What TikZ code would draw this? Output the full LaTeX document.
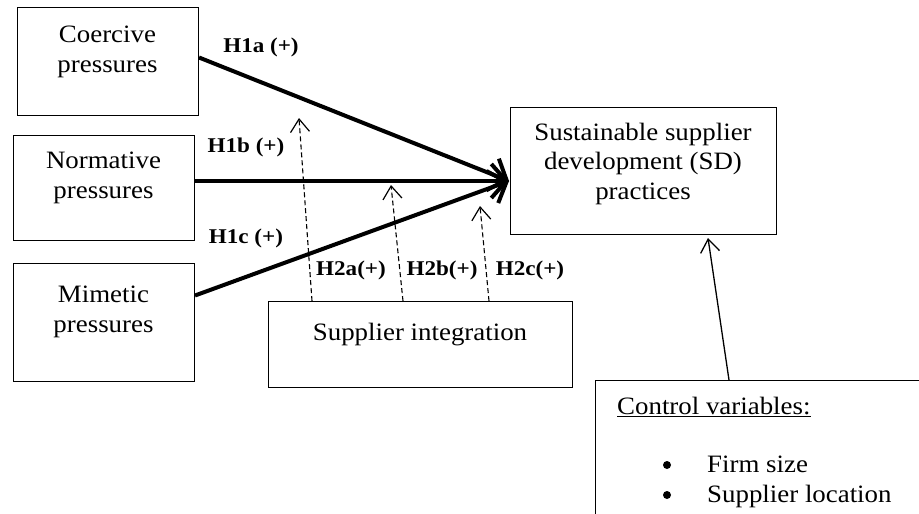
\documentclass[tikz,border=0pt]{standalone}
\usepackage{fontspec}
\setmainfont{Liberation Serif}[FakeStretch=1.075]
\newfontfamily\lblfont{Liberation Serif}[FakeStretch=1.1]
\usetikzlibrary{arrows.meta,calc}

\tikzset{
  box/.style={draw, line width=1pt, inner sep=0pt, anchor=north west},
  boxtext/.style={anchor=base, align=center, inner sep=0pt,
    font=\fontsize{25}{29.5}\selectfont},
  hyp/.style={inner sep=0pt, font=\lblfont\bfseries\fontsize{21}{24}\selectfont},
  mainpath/.style={line width=4pt, -{Straight Barb[length=15pt,width=34pt,line width=4pt]}},
  modpath/.style={line width=1.1pt, dash pattern=on 5pt off 3pt,
    -{Straight Barb[length=13pt,width=19pt,line width=1.2pt]}},
  ctrlpath/.style={line width=1.3pt, -{Straight Barb[length=13pt,width=19pt,line width=1.3pt]}}
}

\begin{document}
\begin{tikzpicture}[x=1pt,y=-1pt]
\useasboundingbox (0,0) rectangle (919,514);
\clip (0,0) rectangle (919,514);

% construct boxes
\node[box, minimum width=181pt, minimum height=108pt] (coer) at (17,7) {};
\node[box, minimum width=181pt, minimum height=105pt] (norm) at (13,135) {};
\node[box, minimum width=181pt, minimum height=118pt] (mim)  at (13,263) {};
\node[box, minimum width=304pt, minimum height=86pt]  (si)   at (268,301) {};
\node[box, minimum width=266pt, minimum height=127pt] (ssd)  at (510,107) {};
\node[box, minimum width=400pt, minimum height=200pt] (ctrl) at (595,380) {};

% box texts (anchored at the baseline of the last line)
\node[boxtext] (coertxt) at (107.5,72) {Coercive\\pressures};
\node[boxtext] (normtxt) at (103.5,198) {Normative\\pressures};
\node[boxtext] (mimtxt)  at (103.5,332) {Mimetic\\pressures};
\node[boxtext] (sitxt)   at (420,340) {Supplier integration};
\node[boxtext] (ssdtxt)  at (643,199) {Sustainable supplier\\development (SD)\\practices};
\node[boxtext, anchor=base west] (ctrltxt) at (617,414) {\underline{Control variables:}};
\node[boxtext, anchor=base west] (firm) at (707,472) {Firm size};
\node[boxtext, anchor=base west] (loc)  at (707,502) {Supplier location};
\fill (667,465) circle (4pt);
\fill (667,495) circle (4pt);

% direct effects
\coordinate (hub) at (509,181);
\draw[mainpath] ([yshift=4pt]coer.east) -- (hub);
\draw[mainpath] (norm.east |- hub) -- (hub);
\draw[mainpath] ([yshift=27pt]mim.east) -- (hub);

% moderating effects
\coordinate (ta) at (299,118);
\coordinate (tb) at (391,185);
\coordinate (tc) at (480,206);
\draw[modpath] ($(si.north west)+(44,0)$) -- (ta);
\draw[modpath] ($(si.north west)+(135,0)$) -- (tb);
\draw[modpath] ($(si.north west)+(221,0)$) -- (tc);

% control variables
\draw[ctrlpath] ($(ctrl.north west)+(134,0)$) -- (708,238);

% hypothesis labels
\node[hyp] (h1a) at (261,47) {H1a (+)};
\node[hyp] (h1b) at (246,147) {H1b (+)};
\node[hyp] (h1c) at (246,238) {H1c (+)};
\node[hyp] (h2a) at (351,270) {H2a(+)};
\node[hyp] (h2b) at (442,270) {H2b(+)};
\node[hyp] (h2c) at (530,270) {H2c(+)};
\end{tikzpicture}
\end{document}
